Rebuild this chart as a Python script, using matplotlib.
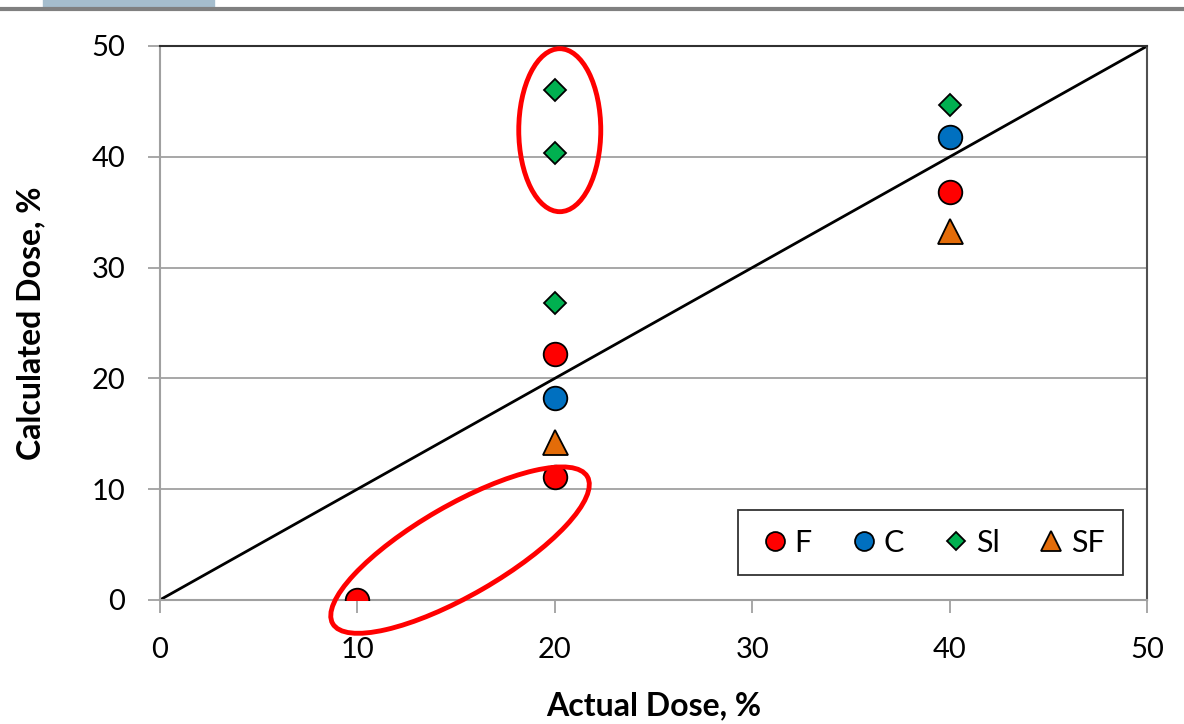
import matplotlib.pyplot as plt
from matplotlib.patches import Ellipse, Rectangle
from matplotlib.transforms import ScaledTranslation
from matplotlib.lines import Line2D

plt.rcParams['font.family'] = ['Lato', 'DejaVu Sans']

# Data
f_x = [10, 20, 20, 40]
f_y = [0.0, 22.2, 11.1, 36.8]
c_x = [20, 40]
c_y = [18.2, 41.8]
sl_x = [20, 20, 20, 40]
sl_y = [46.0, 40.3, 26.8, 44.7]
sf_x = [20, 40]
sf_y = [14.3, 33.3]
ideal = [0, 50]
ticks = [0, 10, 20, 30, 40, 50]

# highlight ellipses: centre (data), width/height (inches), angle
ell_centres = [(20.25, 42.4), (15.2, 4.5)]
ell_sizes = [(0.82, 1.63), (2.94, 0.9)]
ell_angles = [0, 30]

fig = plt.figure(figsize=(11.84, 7.24), dpi=100)
ax = fig.add_axes([0.135, 0.1713, 0.834, 0.7652])

# top banner like the slide it came from
fig.add_artist(Line2D([0, 1], [0.988, 0.988], color='#808080', lw=3, transform=fig.transFigure))
fig.add_artist(Rectangle((0.036, 0.99), 0.145, 0.02, color='#A5BDCD', transform=fig.transFigure))

ax.plot(ideal, ideal, color='black', lw=2, zorder=2)

ms = 17
ax.plot(f_x, f_y, 'o', color='#FF0000', mec='black', mew=1.3, ms=ms, label='F', zorder=4)
ax.plot(c_x, c_y, 'o', color='#0070C0', mec='black', mew=1.3, ms=ms, label='C', zorder=4)
ax.plot(sl_x, sl_y, 'D', color='#00B050', mec='black', mew=1.3, ms=11.5, label='Sl', zorder=4)
ax.plot(sf_x, sf_y, '^', color='#E36C09', mec='black', mew=1.3, ms=18, label='SF', zorder=4)

for (cx, cy), (w, h), ang in zip(ell_centres, ell_sizes, ell_angles):
    tr = fig.dpi_scale_trans + ScaledTranslation(cx, cy, ax.transData)
    ax.add_patch(Ellipse((0, 0), w, h, angle=ang, fill=False, ec='#FF0000', lw=3.5,
                         transform=tr, zorder=5, clip_on=False))

ax.set_xlim(0, 50)
ax.set_ylim(0, 50)
ax.set_xticks(ticks)
ax.set_yticks(ticks)
ax.yaxis.grid(True, color='#A0A0A0', lw=1.3)
ax.set_axisbelow(True)
ax.tick_params(labelsize=21, color='#A0A0A0', length=9, width=1.3)
ax.tick_params(axis='x', pad=18)
ax.tick_params(axis='y', pad=16)
ax.spines['left'].set_color('#A0A0A0')
ax.spines['bottom'].set_color('#A0A0A0')
ax.spines['top'].set_color('#303030')
ax.spines['right'].set_color('#505050')
for s in ax.spines.values():
    s.set_linewidth(1.5)

ax.set_xlabel('Actual Dose, %', fontsize=23, fontweight='bold', labelpad=20)
ax.set_ylabel('Calculated Dose, %', fontsize=23, fontweight='bold', labelpad=33)

leg = ax.legend(loc='lower right', bbox_to_anchor=(0.9757, 0.045), ncol=4, fontsize=22,
                fancybox=False, edgecolor='black', handletextpad=0.05, columnspacing=1.1,
                handlelength=1.2, borderpad=0.6, borderaxespad=0, markerscale=0.8)
leg.get_frame().set_linewidth(1.3)

fig.savefig('out.png', dpi=100)
